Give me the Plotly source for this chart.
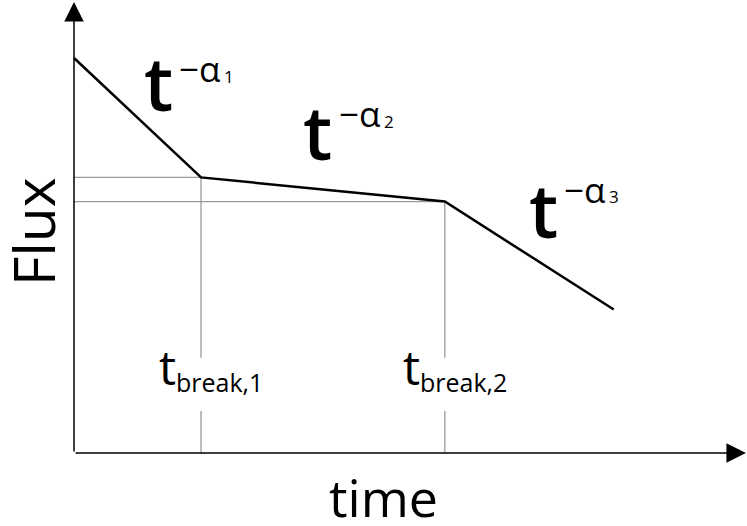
import plotly.graph_objects as go

# broken power-law light curve, time in units of the first break
time_pts = [0.0, 1.0, 2.92, 4.25]
flux_pts = [3.11, 2.17, 1.98, 1.13]

break_times = [1.0, 2.92]
break_flux = [2.17, 1.98]
break_names = ["break,1", "break,2"]
slope_names = ["1", "2", "3"]

W, H = 747, 526
FONT = "Open Sans"
GREY = "#9a9a9a"
GAP = (0.33, 0.75)  # vertical span left blank behind the t_break labels


def px(x, y):
    """pixel position -> paper coordinates"""
    return x / W, 1 - y / H


fig = go.Figure()

# grey guide lines at the breaks
for tb, fb in zip(break_times, break_flux):
    fig.add_trace(go.Scatter(
        x=[0, tb], y=[fb, fb], mode="lines",
        line=dict(color=GREY, width=1.3), hoverinfo="skip",
    ))
    fig.add_trace(go.Scatter(
        x=[tb, tb, None, tb, tb], y=[fb, GAP[1], None, GAP[0], 0], mode="lines",
        line=dict(color=GREY, width=1.3), hoverinfo="skip",
    ))

fig.add_trace(go.Scatter(
    x=time_pts, y=flux_pts, mode="lines",
    line=dict(color="black", width=2.5), hoverinfo="skip",
))

ann = []
# axes with arrow heads
for (x, y) in [(5.291, 0), (0, 3.551)]:
    ann.append(dict(
        x=x, y=y, ax=0, ay=0, xref="x", yref="y", axref="x", ayref="y",
        text="", showarrow=True, arrowhead=2, arrowsize=2.6, arrowwidth=1.5,
        arrowcolor="black",
    ))


def label(text, x, y, size, xanchor="center", weight=None, **kw):
    xp, yp = px(x, y)
    font = dict(family=FONT, size=size, color="black")
    if weight:
        font["weight"] = weight
    ann.append(dict(
        text=text, x=xp, y=yp, xref="paper", yref="paper",
        xanchor=xanchor, yanchor="middle", showarrow=False, font=font, **kw,
    ))


# t^{-alpha_i} labels
slope_pos = [(158, 111, 180, 82), (317, 160, 340, 128), (543, 238, 565, 203)]
for name, (tx, tb, sx, sb) in zip(slope_names, slope_pos):
    label("t", tx, tb - 28, 74, weight=600)
    label("\u2212\u03b1", sx - 3, sb - 14, 35, xanchor="left")
    label(name, sx + 42, sb - 6, 17, xanchor="left")

# t_break labels
for name, tb in zip(break_names, break_times):
    xc = 74 + tb * 127
    label("t", xc - 44, 385 - 19, 48, xanchor="left")
    label(name, xc - 27, 392 - 10, 25, xanchor="left")

label("Flux", 33, 232, 57, textangle=-90)
label("time", 384, 518 - 22, 52)

fig.update_layout(
    width=W, height=H, margin=dict(l=0, r=0, t=0, b=0),
    paper_bgcolor="white", plot_bgcolor="white", showlegend=False,
    xaxis=dict(range=[-74 / 127, (W - 74) / 127], visible=False, fixedrange=True),
    yaxis=dict(range=[(453 - H) / 127, 453 / 127], visible=False, fixedrange=True),
    annotations=ann,
)

fig.write_html("out.html", config={"displayModeBar": False},
               post_script="document.body.style.margin='0';")
